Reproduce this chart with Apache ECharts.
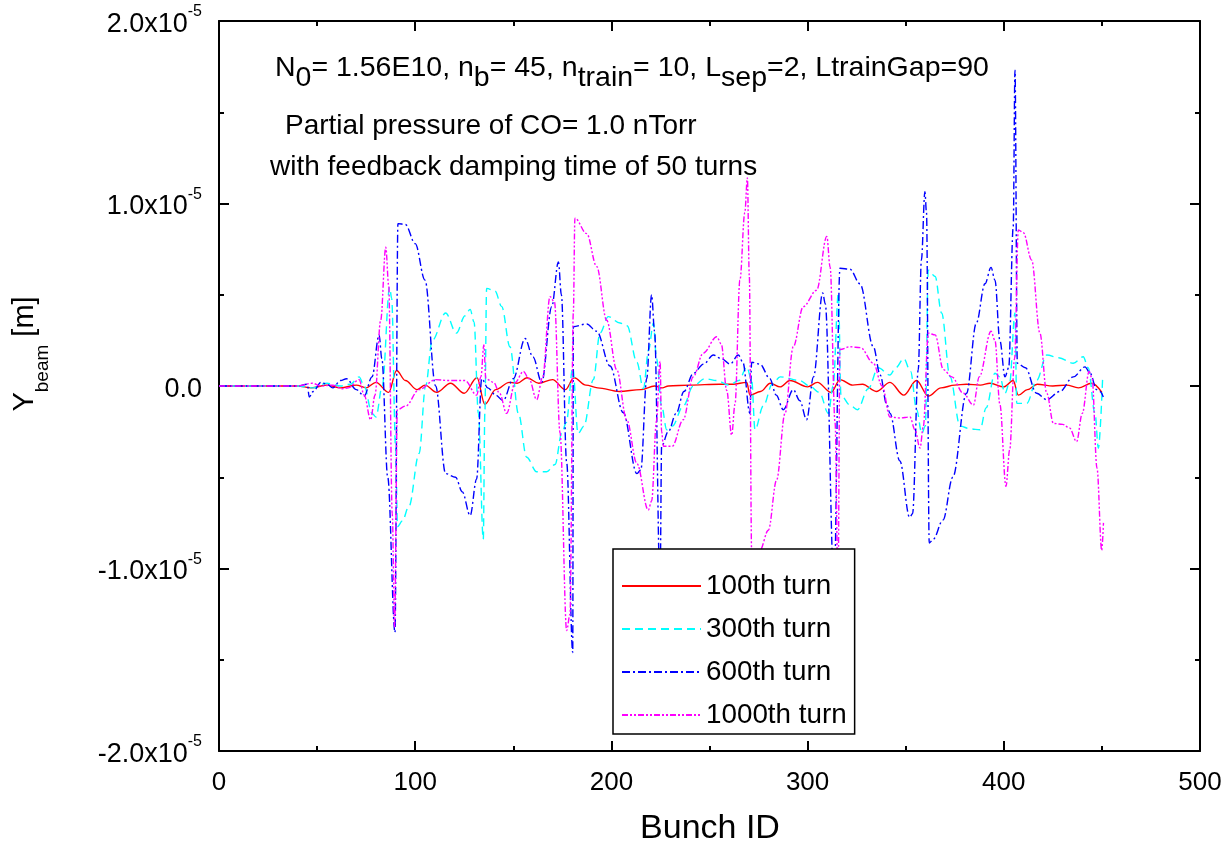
<!DOCTYPE html>
<html>
<head>
<meta charset="utf-8">
<script src="https://cdn.jsdelivr.net/npm/echarts@6/dist/echarts.min.js"></script>
<style>
html,body{margin:0;padding:0;background:#fff;}
#chart{width:1229px;height:847px;}
</style>
</head>
<body>
<div id="chart"></div>
<script>
// Bunch ID (x) and Y_beam in units of 1e-6 m (y)
const seriesNames = ['100th turn', '300th turn', '600th turn', '1000th turn'];

const x100 = [0,40,47,55,62,70,75,80,86.5,90.5,95,101,105,111,118,125,131.5,135.5,141,148,152,157,163,170,176.5,181,187,193,204,215,222,226,229,240,255,262,269,270.6,276,281,286,291,300,305,312,316.5,323,328,335,342,349,355.5,361.5,368,375,381,388,393,400,404.8,407.4,412,417,425,432,438,444.8,450];
const y100 = [0,0,-0.1,0.05,-0.1,0.05,-0.1,0.2,-0.35,0.85,0.3,-0.2,0.05,-0.35,0.15,-0.4,0.45,-1.0,-0.2,0.2,0.15,0.45,0.15,0.35,-0.2,0.45,0.05,-0.1,-0.3,-0.2,0.0,-0.1,0,0.05,0.1,0.1,0.2,-0.5,-0.3,0.15,-0.05,0.3,-0.05,0.2,-0.35,0.35,0.05,0.1,-0.3,0.2,-0.5,0.3,-0.55,-0.1,0.05,0.1,0.05,0.15,-0.05,0.3,-0.5,-0.2,0.1,0.0,0.05,-0.1,0.15,-0.35];

const x300 = [0,40,48,55,62,67,71.4,74,78,80,83.2,87,88,90,91,93.4,96.8,102,105.3,108.7,115.5,121,125.4,128,130,132.2,134.7,135.5,136.4,140.7,144.1,148.3,152.6,156.8,161.9,167,171.3,174.7,177,180.3,183,186,190.8,194.2,198.4,204.4,208,213,216.3,219,221.4,223,225.6,228.2,231,236.6,241.7,247.7,253.7,260,265,269,271.5,273.2,277.4,282,286,296,301,306,310.6,313,315.7,317,321.6,325.4,330.9,336,341.9,345,349,352.5,355.6,358.2,360,361.5,365,368.3,372.6,377.7,383,387.9,391,395.5,398,400.6,403,405.7,406.6,411.7,416.7,421.9,428,435.4,440.5,443,446.5,448.2,450.4];
const y300 = [0,0,-0.1,0.15,0,0.1,0.5,0,-1.5,-1.7,0,5.4,4.8,-3.3,-7.7,-7.4,-6.6,-3.7,0,2.5,4.0,2.9,3.85,4.2,3.5,-1.5,-8.4,-1.5,5.35,5.2,4.35,2.15,-1.5,-3.9,-4.7,-4.7,-4.3,-2.6,-2.0,1.0,-2.6,-2.2,0.35,2.9,3.8,3.45,3.3,1.3,-0.15,2.0,3.45,1.5,-1.1,-2.4,-2.2,-1.1,0,0.4,0.3,0.05,0.3,1.05,0.3,-2.4,-1.1,0.1,0.5,0.3,0,-0.35,-1.5,0,5.1,-0.5,-1.05,-1.3,-0.15,1.0,0.6,1.0,1.5,0.8,-1.3,-2.6,-2.2,6.35,6.0,4.0,0.5,-2.2,-2.35,-2.4,-1.2,0.7,0.5,-0.4,0.2,4.0,-0.95,-0.95,0.3,1.7,1.55,1.25,1.6,1.0,-1.5,-3.4,0.5];

const x600 = [0,40,45,46,48,52,55,58,62,65,70,74,78,81.6,83,86,89.7,91.2,95,100,105,110.4,115.5,120.6,124,128,131.3,133.9,137,141,144.8,150,156,160,164.5,169.6,173,174.5,177.2,180.3,180.6,187.4,192.5,199.3,206,213,215,218,220.5,222,224.8,225.6,229,233,237,241.8,247,252,256,260.5,264.7,267,270.6,271.5,275.7,280.8,284,287.6,292.7,296,299.5,303,307.7,309,313.5,316.5,321.6,326.7,333.5,337,340.3,342,347,352,353.5,356.4,358,359.8,360.6,362,364,369,374,381,386,390.4,393.5,395.5,398,400.6,402.5,404.8,405.7,406.9,411,416.7,421.9,428.6,435.4,441.4,444,447.3,449,450.7];
const y600 = [0,0,0.1,-0.6,-0.3,0.2,0.1,-0.1,0.3,0.4,-0.2,-0.55,0.5,2.8,1.5,-5,-13.5,8.9,8.85,7.8,5.8,0,-4.8,-5.0,-5.8,-7.1,-5.1,0.4,-0.1,-0.5,-0.8,0.4,2.6,1.6,0.2,4.35,6.8,5.0,-4.2,-14.6,3.25,3.4,3.0,1.1,-1.45,-4.8,-4.6,0.4,5.0,3,-11,-3.3,-2.5,-1.5,-0.3,0.7,1.2,1.7,1.5,1.2,1.7,1.3,-1.5,1.3,1.2,0.4,-0.5,-1.3,-0.2,-0.8,-1.85,0.5,5.1,4.5,-11,6.45,6.4,5.6,2.15,0.6,-1.0,-1.5,-4.1,-7.2,-7.0,0.9,6.9,10.65,9.5,-8.6,-8.4,-7.35,-5.0,-0.4,3.45,5.6,6.5,5.8,2.5,0.5,1.0,8.7,17.3,1.25,1.0,-0.4,-0.75,-0.3,0.5,1.05,0.7,-0.2,-0.3,-0.6];

const x1000 = [0,40,47.5,52,58,62.8,66,71.4,74,77.3,79.5,82.4,85,86.5,88.3,89.5,90.9,95.1,102,110.4,117,125.4,131.3,133.5,135,136,140,143,146.6,151,155.1,158,161.9,165,168.7,171,173.8,177.2,178.9,180.6,181.4,187.4,192.5,197.6,202.7,207.8,213,218.8,220.5,223,224.8,225.6,226.5,231,236.6,241.7,246.8,253.7,256,258.8,261.3,263,265.5,268,269.3,270.3,271.5,275.7,280,284.2,288.5,292.7,297.8,304.6,309.8,311.5,314,315.5,316.5,321.6,327,333.5,338,342,347,352.2,354.7,357.3,359,361.5,365,369.2,373.5,379.4,384.5,387.5,393.5,395.5,398,401.1,403,405.5,407.4,410,414.2,418.4,421.9,425.3,430,433.5,437.1,440,443.5,445,447.5,449.9,450.8];
const y1000 = [0,0,0.15,0,0.05,-0.15,-0.1,0.35,-0.5,-1.85,-0.5,3.6,7.6,5.5,-7.0,-13.2,-1.3,-1.1,-0.2,0.35,0.3,0.3,-0.5,0.5,2.25,0.4,0.2,-0.4,-1.5,0.2,0.8,0.4,-0.75,0.5,4.9,4.6,-2.55,-13.4,-12.5,4.0,9.2,8.35,6.55,3.6,0.9,-1.85,-4.25,-6.8,-6.3,-1.9,1.35,-2.5,-3.3,-3.3,-1.85,0.5,1.8,2.7,2.3,-0.25,-2.7,-1.0,5.8,9.5,11.4,6.0,-9.2,-9.0,-7.9,-5.15,-1.5,2.15,4.35,5.25,8.2,6.5,-2,-11,2.0,2.15,2.1,1.25,0.0,-1.7,-1.75,-1.7,-2.4,-3.4,-2.2,2.9,2.8,0.9,0.5,-0.4,-1.05,0.5,3.0,2.5,-1.0,-5.5,-3.5,1.5,8.55,8.4,6.9,2.9,-0.4,-2.05,-2.1,-2.3,-3.05,-1.5,0.8,0.4,-4.5,-9.0,-7.5];

const xTicks = [0, 100, 200, 300, 400, 500];
const yTickMantissas = [-2.0, -1.0, 0.0, 1.0, 2.0]; // x 10^-5 m

const FONT = "'Liberation Sans', Arial, sans-serif";
const colors = ['#ff0000', '#00ffff', '#0000ff', '#ff00ff'];
const dashes = ['solid', [8, 5], [8, 3, 2, 3], [6, 2, 2, 2, 2, 2]];
const xs = [x100, x300, x600, x1000];
const ys = [y100, y300, y600, y1000];

function pairs(x, y) { return x.map((v, i) => [v, y[i] * 1e-6]); }

const chart = echarts.init(document.getElementById('chart'), null, {renderer: 'canvas'});

const series = seriesNames.map((name, i) => ({
  name: name,
  type: 'line',
  data: pairs(xs[i], ys[i]),
  showSymbol: false,
  symbol: 'none',
  smooth: 0.35,
  smoothMonotone: 'x',
  lineStyle: {color: colors[i], width: 1.4, type: dashes[i]},
  itemStyle: {color: colors[i]},
  emphasis: {disabled: true},
  z: 2
}));

const tickStyle = {show: true, inside: true, length: 10, lineStyle: {color: '#000', width: 2}};
const minorStyle = {show: true, splitNumber: 2, length: 5, lineStyle: {color: '#000', width: 2}};
const lineStyleAxis = {show: true, onZero: false, lineStyle: {color: '#000', width: 2}};

function yFmt(v) {
  const m = v / 1e-5;
  if (Math.abs(m) < 1e-9) return '{m|0.0}';
  return '{m|' + m.toFixed(1) + 'x10}{s|-5}';
}

const option = {
  backgroundColor: '#fff',
  animation: false,
  grid: {left: 219, right: 29, top: 21, bottom: 96, containLabel: false},
  xAxis: [
    {type: 'value', position: 'bottom', min: xTicks[0], max: xTicks[xTicks.length - 1], interval: 100,
     axisLine: lineStyleAxis, axisTick: tickStyle, minorTick: minorStyle, splitLine: {show: false},
     axisLabel: {show: true, margin: 19, fontSize: 26, fontFamily: FONT, color: '#000'}},
    {type: 'value', position: 'top', min: xTicks[0], max: xTicks[xTicks.length - 1], interval: 100,
     axisLine: lineStyleAxis, axisTick: tickStyle, minorTick: minorStyle, splitLine: {show: false},
     axisLabel: {show: false}}
  ],
  yAxis: [
    {type: 'value', position: 'left', min: yTickMantissas[0] * 1e-5, max: yTickMantissas[yTickMantissas.length - 1] * 1e-5, interval: 1e-5,
     axisLine: lineStyleAxis, axisTick: tickStyle, minorTick: minorStyle, splitLine: {show: false},
     axisLabel: {show: true, margin: 17, formatter: yFmt, color: '#000',
       rich: {
         m: {fontSize: 27, fontFamily: FONT, color: '#000', lineHeight: 34, verticalAlign: 'bottom'},
         s: {fontSize: 16, fontFamily: FONT, color: '#000', lineHeight: 16, verticalAlign: 'top'}
       }}},
    {type: 'value', position: 'right', min: yTickMantissas[0] * 1e-5, max: yTickMantissas[yTickMantissas.length - 1] * 1e-5, interval: 1e-5,
     axisLine: lineStyleAxis, axisTick: tickStyle, minorTick: minorStyle, splitLine: {show: false},
     axisLabel: {show: false}}
  ],
  legend: {
    show: true,
    orient: 'vertical',
    left: 613, top: 549,
    padding: [23, 8, 5, 8],
    itemWidth: 79, itemHeight: 14, itemGap: 15,
    itemStyle: {opacity: 0},
    backgroundColor: '#fff', borderColor: '#000', borderWidth: 1.5,
    textStyle: {fontSize: 27.8, fontFamily: FONT, color: '#000', lineHeight: 28},
    data: seriesNames,
    selectedMode: false
  },
  graphic: [
    {type: 'text', left: 275, top: 54, z: 10,
     style: {text: '{a|N}{b|0}{a|= 1.56E10, n}{b|b}{a|= 45, n}{b|train}{a|= 10, L}{b|sep}{a|=2, LtrainGap=90}',
       rich: {
         a: {fontSize: 28.5, fontFamily: FONT, fill: '#000', lineHeight: 30, verticalAlign: 'top'},
         b: {fontSize: 28.5, fontFamily: FONT, fill: '#000', lineHeight: 39, verticalAlign: 'bottom'}
       }}},
    {type: 'text', left: 285, top: 112, z: 10,
     style: {text: 'Partial pressure of CO= 1.0 nTorr', fontSize: 28, fontFamily: FONT, fill: '#000'}},
    {type: 'text', left: 270, top: 153, z: 10,
     style: {text: 'with feedback damping time of 50 turns', fontSize: 28, fontFamily: FONT, fill: '#000'}},
    {type: 'text', x: 710, y: 829, z: 10,
     style: {text: 'Bunch ID', fontSize: 34, fontFamily: FONT, fill: '#000', align: 'center', verticalAlign: 'middle'}},
    {type: 'text', x: 31, y: 354, rotation: Math.PI / 2, z: 10,
     style: {text: '{a|Y}{b|beam}{a| [m]}', align: 'center', verticalAlign: 'middle',
       rich: {
         a: {fontSize: 29, fontFamily: FONT, fill: '#000', lineHeight: 30, verticalAlign: 'top'},
         b: {fontSize: 19, fontFamily: FONT, fill: '#000', lineHeight: 42, verticalAlign: 'bottom'}
       }}}
  ],
  series: series
};

chart.setOption(option);
</script>
</body>
</html>
